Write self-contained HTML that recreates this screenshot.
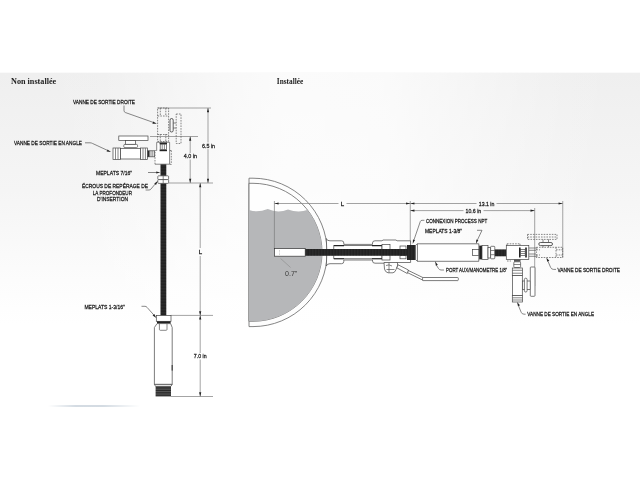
<!DOCTYPE html>
<html><head><meta charset="utf-8">
<style>
html,body{margin:0;padding:0;background:#fff;}
body{width:640px;height:480px;overflow:hidden;position:relative;font-family:"Liberation Sans",sans-serif;}
svg{position:absolute;left:0;top:0;display:block;will-change:transform;opacity:0.999;}
.t{font-family:"Liberation Sans",sans-serif;font-size:6.1px;fill:#1c1c1c;stroke:#1c1c1c;stroke-width:0.26;}
.h{font-family:"Liberation Serif",serif;font-weight:bold;font-size:8.6px;fill:#222;}
.l{stroke:#555;stroke-width:0.7;fill:none;}
.d{stroke:#7c7c7c;stroke-width:0.7;fill:none;}
.o{stroke:#444;stroke-width:0.7;fill:#fff;}
.ds{stroke:#555;stroke-width:0.7;fill:none;stroke-dasharray:1.6 1.1;}
.a{fill:#222;stroke:none;}
</style></head><body>
<svg width="640" height="480" viewBox="0 0 640 480">
<defs>
<linearGradient id="bg" x1="0" y1="0" x2="0" y2="1">
<stop offset="0" stop-color="#efefef"/><stop offset="0.35" stop-color="#f5f5f5"/><stop offset="0.62" stop-color="#fcfcfc"/><stop offset="0.75" stop-color="#ffffff"/>
</linearGradient>
<linearGradient id="bgh" x1="0" y1="0" x2="1" y2="0"><stop offset="0" stop-color="#fff" stop-opacity="0"/><stop offset="0.15" stop-color="#fff" stop-opacity="0.05"/><stop offset="0.36" stop-color="#fff" stop-opacity="0.6"/><stop offset="0.45" stop-color="#fff" stop-opacity="0.75"/><stop offset="0.6" stop-color="#fff" stop-opacity="0.7"/><stop offset="0.75" stop-color="#fff" stop-opacity="0.35"/><stop offset="0.9" stop-color="#fff" stop-opacity="0.05"/><stop offset="1" stop-color="#fff" stop-opacity="0"/></linearGradient>
<linearGradient id="bl" x1="0" y1="0" x2="1" y2="0">
<stop offset="0" stop-color="#9fb0c0" stop-opacity="0"/><stop offset="0.3" stop-color="#9fb0c0" stop-opacity="0.9"/><stop offset="0.6" stop-color="#9fb0c0" stop-opacity="0.9"/><stop offset="1" stop-color="#9fb0c0" stop-opacity="0"/>
</linearGradient>
<pattern id="thv" width="2" height="1.5" patternUnits="userSpaceOnUse"><rect width="2" height="1.5" fill="#1e1e1e"/><rect y="0" width="2" height="0.3" fill="#484848"/></pattern>
<pattern id="thh" width="1.5" height="2" patternUnits="userSpaceOnUse"><rect width="1.5" height="2" fill="#1e1e1e"/><rect x="0" width="0.3" height="2" fill="#484848"/></pattern>
<pattern id="thb" width="2" height="1.7" patternUnits="userSpaceOnUse"><rect width="2" height="1.7" fill="#262626"/><rect y="0" width="2" height="0.45" fill="#858585"/></pattern>
<filter id="soft" x="0" y="0" width="640" height="480" filterUnits="userSpaceOnUse"><feGaussianBlur stdDeviation="0.32"/></filter>
<clipPath id="tankclip"><circle cx="253" cy="252.3" r="69"/></clipPath>
<clipPath id="rightof"><rect x="249" y="170" width="90" height="170"/></clipPath>
</defs>
<rect x="0" y="72.7" width="640" height="335.3" fill="url(#bg)"/>
<rect x="0" y="72.7" width="640" height="335.3" fill="url(#bgh)"/>
<rect x="48" y="405.5" width="92" height="1" fill="url(#bl)"/>
<text class="h" x="11" y="84" textLength="45.2" lengthAdjust="spacingAndGlyphs">Non installée</text>
<text class="h" x="276.8" y="84" textLength="26.4" lengthAdjust="spacingAndGlyphs">Installée</text>
<g id="left" filter="url(#soft)">
<!-- dimension/extension lines -->
<path class="d" d="M157.5 108H211 M150 136.5H198 M168.5 183H213 M171 315.4H213 M171 396.5H213"/>
<path class="d" d="M208 108V142.500 M208 149.200V183 M190.2 136.5V153 M190.2 159.500V183 M200.2 183V248 M200.2 256V315.4 M200.2 315.4V353 M200.200 359.500V396.5"/>
<!-- arrows -->
<path class="a" d="M208 108l-1.1 4.2h2.2z M208 183l-1.1-4.2h2.2z M190.2 136.5l-1.1 4.2h2.2z M190.2 183l-1.1-4.2h2.2z M200.2 183l-1.1 4.2h2.2z M200.2 315.4l-1.1-4.2h2.2z M200.2 315.4l-1.1 4.2h2.2z M200.2 396.5l-1.1-4.2h2.2z"/>
<text class="t" x="202" y="147.6" textLength="13" lengthAdjust="spacingAndGlyphs">6.5 in</text>
<text class="t" x="183.8" y="158" textLength="13.2" lengthAdjust="spacingAndGlyphs">4.0 in</text>
<text class="t" x="193.8" y="358" textLength="12.8" lengthAdjust="spacingAndGlyphs">7.0 in</text>
<text class="t" x="198.8" y="254" >L</text>
<!-- straight valve (dashed) -->
<rect class="ds" x="157.6" y="108" width="11" height="33.5"/>
<path class="ds" d="M160.3 108V116 M165.8 108V116 M160.3 134V142 M165.8 134V142 M157.6 116H168.6 M157.6 134.5H168.6"/>
<rect class="ds" x="176.2" y="114" width="4.8" height="29.5"/>
<rect x="170" y="118.5" width="3.2" height="13.5" rx="1.6" fill="none" stroke="#333" stroke-width="0.8"/>
<path class="l" d="M173.2 123H176.2 M173.2 128H176.2"/>
<path class="ds" d="M171.300 150.500V164.500 M169.600 150.500H171.300 M169.600 164.300H171.300"/>
<!-- angle valve -->
<rect class="o" x="118.8" y="136" width="29.2" height="4.6"/>
<rect class="o" x="125.6" y="140.6" width="10" height="3.8"/>
<rect class="o" x="123.8" y="144.4" width="13.7" height="3.2" rx="1"/>
<rect class="o" x="113" y="148" width="7.6" height="11.4"/>
<rect class="o" x="120.6" y="148.6" width="20" height="10.4"/>
<rect class="o" x="140.6" y="148" width="7" height="11.4"/>
<path class="l" d="M115.5 148V159.4 M118 148V159.4 M143 148V159.4 M145.4 148V159.4"/>
<rect class="o" x="147.600" y="150.800" width="9" height="6" stroke-width="0.5"/>
<rect x="147.800" y="150.800" width="1.800" height="6" fill="#2a2a2a"/><rect x="154.400" y="150.800" width="1.800" height="6" fill="#2a2a2a"/><path class="l" d="M151 150.800V156.800 M152.800 150.800V156.800" stroke-width="0.5" stroke="#777"/>
<!-- block -->
<path d="M156.7 142.3H169.6V164.2H155V150.8H156.700Z" fill="#fff" stroke="none"/><path class="l" d="M156.7 150.8V142.3H169.6V164.2H155" stroke="#444"/><path class="ds" d="M155 164.200V150.8"/>
<rect x="159.6" y="142.6" width="7.4" height="1.6" fill="#222"/>
<rect x="159.6" y="149.6" width="7.4" height="1.6" fill="#222"/>
<rect class="o" x="160.2" y="144.2" width="6.2" height="5.4" stroke-width="0.5"/>
<path class="l" d="M162.2 144.2V149.6 M164.4 144.2V149.6"/>
<!-- rod -->
<rect x="160.5" y="164.4" width="5.8" height="151.2" fill="url(#thv)"/>
<!-- nut -->
<rect class="o" x="157.8" y="175.8" width="10.8" height="3.8" rx="0.8"/>
<rect class="o" x="157.8" y="179.6" width="10.8" height="3.8" rx="0.8"/>
<path class="l" d="M163.2 175.8V183.4"/>
<!-- probe -->
<rect class="o" x="156.3" y="315.6" width="14.7" height="5.7"/>
<rect x="157" y="321.3" width="13.6" height="2.3" fill="#222"/>
<path class="o" d="M157 323.6H170.6L172.2 327.5V384.4H154.4V327.5Z" stroke="#6a6a6a" stroke-width="0.6"/>
<path class="l" d="M159.4 323.6V329.4Q159.4 330.3 160.3 330.3H166.1Q167 330.3 167 329.4V323.6" stroke-width="0.5"/>

<rect x="171.6" y="365" width="1.2" height="5.6" fill="#444"/>
<path class="o" d="M154.4 384.4H172.2L171 386.3H155.6Z"/>
<rect x="155.6" y="386.3" width="15.4" height="10.2" fill="url(#thb)"/>
<!-- labels -->
<text class="t" x="73" y="103.6" textLength="62" lengthAdjust="spacingAndGlyphs">VANNE DE SORTIE DROITE</text>
<path class="l" d="M124 105.5V110.5Q124 112 125.3 112.5L153 122.3"/>
<path class="a" d="M156.8 123.8l-4.4-.1.8-2.2z"/>
<text class="t" x="14" y="144.6" textLength="68" lengthAdjust="spacingAndGlyphs">VANNE DE SORTIE EN ANGLE</text>
<path class="l" d="M85 142.8H90Q91.3 142.8 92.4 143.4L107.5 150.4"/>
<path class="a" d="M111 152l-4.4-.5 1-2.1z"/>
<text class="t" x="96" y="175" textLength="36" lengthAdjust="spacingAndGlyphs">MEPLATS 7/16"</text>
<path class="l" d="M148 172.5H156.5"/>
<path class="a" d="M160.4 172.5l-4.2-1.1v2.2z"/>
<text class="t" x="82" y="188.2" textLength="66" lengthAdjust="spacingAndGlyphs">ÉCROUS DE REPÉRAGE DE</text>
<text class="t" x="92.8" y="194.5" textLength="39.2" lengthAdjust="spacingAndGlyphs">LA PROFONDEUR</text>
<text class="t" x="97" y="200.7" textLength="31" lengthAdjust="spacingAndGlyphs">D'INSERTION</text>
<path class="l" d="M145.6 190H149Q150.3 190 151 189L155.6 183.5"/>
<path class="a" d="M157.8 181l-1.8 4-1.7-1.5z"/>
<text class="t" x="84.4" y="308.8" textLength="40.4" lengthAdjust="spacingAndGlyphs">MEPLATS 1-3/16"</text>
<path class="l" d="M141.5 306.3H145Q146.3 306.3 147 307.3L154 315.2"/>
<path class="a" d="M156.3 318l-3.7-2.4 1.7-1.5z"/>
</g>

<g id="right" filter="url(#soft)">
<!-- tank -->
<path d="M249 178.2H253A74.2 74.2 0 0 1 253 326.6H249Z" fill="#fdfdfd" stroke="#666" stroke-width="0.8"/>
<path d="M249 183.3H253A69 69 0 0 1 253 321.3H249Z" fill="#fefefe" stroke="#666" stroke-width="0.8"/>
<g clip-path="url(#tankclip)">
<path d="M249 210 Q257.500 213 267.750 209 Q278 213.600 288 209.400 Q298 213.200 308 209.800 L330 210 V330H249Z" fill="#b6b7b9"/>
</g>
<!-- dimension lines -->
<path class="d" d="M274.4 201V249 M410.25 201V243 M534.7 208V286 M562.75 201V257.5"/>
<path class="d" d="M274.4 203.5H338.500 M346.500 203.5H410.25 M410.25 203.5H476.500 M496.500 203.5H562.75 M410.25 210.6H463.500 M483.500 210.6H534.7"/>
<path class="a" d="M274.4 203.5l4.2-1.1v2.2z M410.25 203.5l-4.2-1.1v2.2z M410.25 203.5l4.2-1.1v2.2z M562.75 203.5l-4.2-1.1v2.2z M410.25 210.6l4.2-1.1v2.2z M534.7 210.6l-4.2-1.1v2.2z"/>
<text class="t" x="340.8" y="205.8">L</text>
<text class="t" x="478.8" y="205.8" textLength="15.6" lengthAdjust="spacingAndGlyphs">13.1 in</text>
<text class="t" x="465.6" y="212.8" textLength="15.6" lengthAdjust="spacingAndGlyphs">10.6 in</text>
<!-- flange / coupling on tank -->
<path class="o" d="M326.3 238.500Q327 241 330 240.800H341.500Q343.800 240.800 343.800 243V244.400H372.500V243Q372.500 240.800 375 240.800H382L383 240H396L397 240.800H410.600V262.500H397L396 263.200H375Q372.500 263.200 372.500 261V260H343.800V261.500Q343.800 263.700 341.500 263.700H330Q327 263.700 326.300 266Q327.400 252.300 326.300 238.500Z"/>
<!-- inner tube -->
<rect class="o" x="333.8" y="245.600" width="48.2" height="13.2" stroke-width="0.6"/>
<path d="M334 245.600H344 M334 258.800H344 M372 245.600H382 M372 258.800H382" stroke="#222" stroke-width="1.1"/>
<rect class="o" x="382" y="244.500" width="8" height="15.500" stroke-width="0.5"/>
<rect class="o" x="400" y="246" width="6" height="3.400" stroke-width="0.5"/>
<rect class="o" x="400" y="255.400" width="6" height="3.400" stroke-width="0.5"/>
<!-- probe tip & rod -->
<rect x="305" y="249" width="103" height="6.800" fill="url(#thh)"/>
<rect x="274.4" y="248.600" width="30.800" height="7.600" fill="#fff" stroke="#333" stroke-width="0.7"/>
<path d="M279.500 250V255" stroke="#999" stroke-width="0.5" stroke-dasharray="0.8 0.6"/>
<path d="M280.600 258.500L290.600 267.500" stroke="#8a8a8a" stroke-width="0.6"/>
<text x="285" y="275.600" style="font-family:'Liberation Sans',sans-serif;font-size:7.500px;fill:#3c3c3c" textLength="12.400" lengthAdjust="spacingAndGlyphs">0.7"</text>
<!-- ball valve stem & handle -->
<path class="o" d="M384 262.500H397.500V266L396 269.500Q395.500 272 393 272.800H388Q385 272 384.500 269Z" stroke-width="0.6"/>
<path class="l" d="M386 265.500Q389 264 392 266 M386.500 269.500H394.500 M389 262.500V272.800" stroke-width="0.5"/>
<path class="o" d="M408 270.300L423.800 278L423.200 280.300L407.400 272.600Z" stroke-width="0.55"/>
<path class="o" d="M398.100 264.800L408.400 270L407.300 273.500L396.800 267.800Z" stroke-width="0.6"/>
<rect class="o" x="422.600" y="277.500" width="35.700" height="3.100" rx="0.800"/>
<!-- NPT thread -->
<rect x="407" y="245" width="8.600" height="15" fill="url(#thh)"/>
<!-- housing -->
<path class="o" d="M415.600 245.300L417.500 243.800H478.800V261.300H417.500L415.600 259.700Z"/>
<path class="l" d="M417.500 243.800V261.300" stroke="#aaa" stroke-width="0.5"/>
<rect class="o" x="472.500" y="249.400" width="6.300" height="6.200" stroke-width="0.6"/>
<!-- nuts -->
<rect x="479.200" y="245.600" width="2.800" height="13.800" fill="#222"/>
<rect class="o" x="482" y="245.600" width="6" height="13.800"/>
<rect class="o" x="488" y="247.500" width="2.600" height="10.500"/>
<rect class="o" x="490.600" y="246.300" width="4.200" height="12.500" rx="0.800"/>
<path class="l" d="M490.600 250.500H494.800 M490.600 254.700H494.800" stroke-width="0.5"/>
<rect x="494.800" y="249.400" width="11.500" height="6.900" fill="url(#thh)"/>
<!-- block -->
<rect class="o" x="506.300" y="245.600" width="22.500" height="13.800"/>
<path class="ds" d="M507 243.800H520 M507 243.800V245.600 M520 243.800V245.600 M507 261H511"/>
<path d="M519.800 247.500V257.500 M526 247.500V257.500" stroke="#222" stroke-width="1.600"/>
<rect class="o" x="520.600" y="249.500" width="4.600" height="6" stroke-width="0.500"/>
<path class="l" d="M520.600 251.500H525.200 M520.600 253.500H525.200" stroke-width="0.500"/>
<!-- straight valve dashed -->
<path class="l" d="M528.800 248H537.500 M528.800 256.300H537.500 M528.800 250.300H536 M528.800 254H536" stroke-width="0.500" stroke="#888"/>
<rect class="ds" x="536.300" y="247.300" width="26.400" height="10.200"/>
<path class="ds" d="M536.300 249.800H540 M536.300 255H540 M556 247.300V257.500 M556 249.800H562.700 M556 255H562.700"/>
<rect class="ds" x="527.500" y="234.400" width="29.500" height="5"/>
<path class="ds" d="M527.500 237H557"/>
<rect x="538.800" y="242.500" width="13.700" height="3.100" rx="1.550" fill="none" stroke="#333" stroke-width="0.800"/>
<path class="l" d="M543 239.400V242.500 M548.500 239.400V242.500 M543 245.600V247.300 M548.500 245.600V247.300"/>
<!-- angle valve (down) -->
<rect x="514" y="259.400" width="6.500" height="2.400" fill="#555"/>
<rect class="o" x="513.800" y="261.800" width="6.800" height="5.700" rx="1"/>
<path class="l" d="M513.800 264.500H520.600" stroke-width="0.500"/>
<rect class="o" x="512.300" y="268" width="10.200" height="7.600"/>
<path class="l" d="M512.300 270.300H522.500 M512.300 273.200H522.500" stroke-width="0.500"/>
<rect class="o" x="512.500" y="275.600" width="9.800" height="20"/>
<rect class="o" x="512.300" y="295.600" width="10.200" height="6.400"/>
<path class="l" d="M512.300 297.800H522.500 M512.300 300H522.500" stroke-width="0.500"/>
<rect class="o" x="522.500" y="281" width="8" height="8.400" stroke-width="0.600"/>
<rect class="o" x="524.400" y="278.200" width="2.700" height="13.800" rx="1.300"/>
<rect class="o" x="530.300" y="267" width="4.700" height="29.300" rx="0.800"/>
<!-- labels -->
<text class="t" x="426" y="222.600" textLength="61.200" lengthAdjust="spacingAndGlyphs">CONNEXION PROCESS NPT</text>
<path class="l" d="M424.400 220.300H422Q420.800 220.300 420.300 221.500L414 239.800"/>
<path class="a" d="M412.700 243.800l.3-4.400 2.100.7z"/>
<text class="t" x="425" y="233.200" textLength="37" lengthAdjust="spacingAndGlyphs">MEPLATS 1-3/8"</text>
<path class="l" d="M477 230.300H482L477.300 240.200"/>
<path class="a" d="M476 243.800l.3-4.400 2 .9z"/>
<text class="t" x="446" y="272.200" textLength="61.200" lengthAdjust="spacingAndGlyphs">PORT AUX/MANOMETRE 1/8"</text>
<path class="l" d="M436.300 265L438.400 268.400Q439.400 270 441 270H444"/>
<path class="a" d="M435 261.300l2.800 3.400-1.900 1.100z"/>
<text class="t" x="557.500" y="271.500" textLength="62.500" lengthAdjust="spacingAndGlyphs">VANNE DE SORTIE DROITE</text>
<path class="l" d="M548 261.300L550.600 267.400Q551.500 269.400 553.500 269.400H556"/>
<path class="a" d="M546.300 257.500l3 3.300-2 .9z"/>
<text class="t" x="527.300" y="316.400" textLength="66.700" lengthAdjust="spacingAndGlyphs">VANNE DE SORTIE EN ANGLE</text>
<path class="l" d="M518.500 305.800L521.200 312.300Q522 314.200 524 314.200H525.600"/>
<path class="a" d="M517 302l3 3.300-2 .9z"/>
</g>

</svg>
</body></html>
